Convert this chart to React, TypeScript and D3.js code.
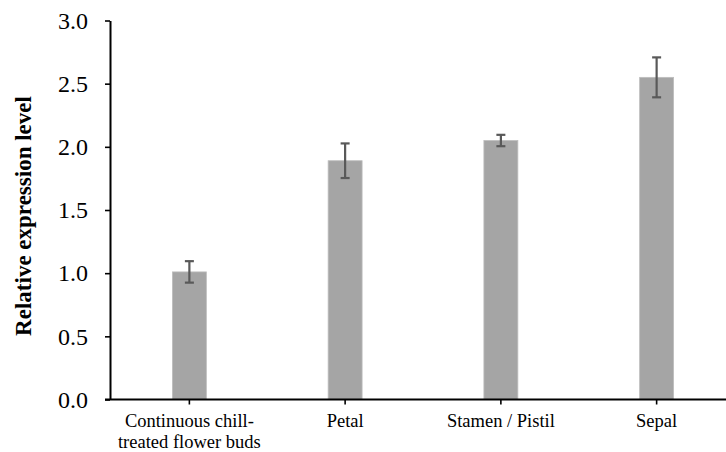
import React, { useRef, useEffect } from 'react'
import * as d3 from 'd3'

const categories = ['Continuous chill-\ntreated flower buds', 'Petal', 'Stamen / Pistil', 'Sepal']
const values = [1.01, 1.89, 2.05, 2.55]
const errors = [0.085, 0.137, 0.045, 0.158]
const yTicks = [0, 0.5, 1.0, 1.5, 2.0, 2.5, 3.0]

const SERIF = "'Liberation Serif', 'Times New Roman', serif"

export default function App() {
  const ref = useRef<SVGSVGElement>(null)

  useEffect(() => {
    const svg = d3.select(ref.current)
    svg.selectAll('*').remove()

    const left = 110
    const top = 20.5
    const bottom = 399.5

    const x = d3
      .scaleBand()
      .domain(categories)
      .range([left, 733])
      .paddingInner(0.782)
      .paddingOuter(0.391)

    const y = d3.scaleLinear().domain([0, 3]).range([bottom, top])

    const data = categories.map((c, i) => ({ c, v: values[i], e: errors[i] }))
    const cx = (c: string) => x(c)! + x.bandwidth() / 2

    // bars
    svg
      .append('g')
      .selectAll('rect')
      .data(data)
      .join('rect')
      .attr('x', (d) => x(d.c)! + 1.5)
      .attr('y', (d) => y(d.v))
      .attr('width', x.bandwidth())
      .attr('height', (d) => bottom - y(d.v))
      .attr('fill', '#a5a5a5')
      .attr('stroke', '#bdbdbd')
      .attr('stroke-width', 0.8)

    // error bars
    const eb = svg.append('g').attr('stroke', '#595959').attr('stroke-width', 2.2)
    data.forEach((d) => {
      const px = cx(d.c) + 1.5
      eb.append('line').attr('x1', px).attr('x2', px).attr('y1', y(d.v + d.e)).attr('y2', y(d.v - d.e))
      eb.append('line').attr('x1', px - 4.5).attr('x2', px + 4.5).attr('y1', y(d.v + d.e)).attr('y2', y(d.v + d.e))
      eb.append('line').attr('x1', px - 4.5).attr('x2', px + 4.5).attr('y1', y(d.v - d.e)).attr('y2', y(d.v - d.e))
    })

    // y axis
    const yAxis = d3
      .axisLeft(y)
      .tickValues(yTicks)
      .tickFormat(d3.format('.1f'))
      .tickSize(5)
      .tickSizeOuter(0)
      .tickPadding(17)
    const yg = svg
      .append('g')
      .attr('transform', `translate(${left},0)`)
      .call(yAxis)
      .attr('font-family', SERIF)
      .attr('font-size', 24)
    yg.select('.domain').attr('stroke', '#000').attr('stroke-width', 2)
    yg.selectAll('.tick line').attr('stroke', '#000').attr('stroke-width', 1.6)
    yg.selectAll('.tick text').attr('fill', '#000').style('font-family', SERIF)

    // x axis
    const xg = svg.append('g').attr('transform', `translate(0,${bottom})`)
    xg.append('line')
      .attr('x1', left - 5)
      .attr('x2', 733)
      .attr('stroke', '#000')
      .attr('stroke-width', 2)
    xg.selectAll('line.tk')
      .data(categories)
      .join('line')
      .attr('class', 'tk')
      .attr('x1', (c) => cx(c) + 1.5)
      .attr('x2', (c) => cx(c) + 1.5)
      .attr('y1', 0)
      .attr('y2', 5)
      .attr('stroke', '#000')
      .attr('stroke-width', 1.6)

    const labels = xg
      .selectAll('text')
      .data(categories)
      .join('text')
      .attr('text-anchor', 'middle')
      .style('font-family', SERIF)
      .attr('font-size', 18.5)
      .attr('fill', '#000')
    labels.each(function (c) {
      c.split('\n').forEach((line, i) => {
        d3.select(this)
          .append('tspan')
          .attr('x', cx(c) + 1.5)
          .attr('y', 27 + i * 21)
          .text(line)
      })
    })

    // y title
    svg
      .append('text')
      .attr('transform', `translate(31,${(top + bottom) / 2 + 6}) rotate(-90)`)
      .attr('text-anchor', 'middle')
      .style('font-family', SERIF)
      .attr('font-weight', 'bold')
      .attr('font-size', 23)
      .attr('fill', '#000')
      .text('Relative expression level')
  }, [])

  return (
    <svg
      ref={ref}
      width={726}
      height={452}
      style={{ position: 'absolute', left: 0, top: 0, background: '#fff' }}
    />
  )
}
